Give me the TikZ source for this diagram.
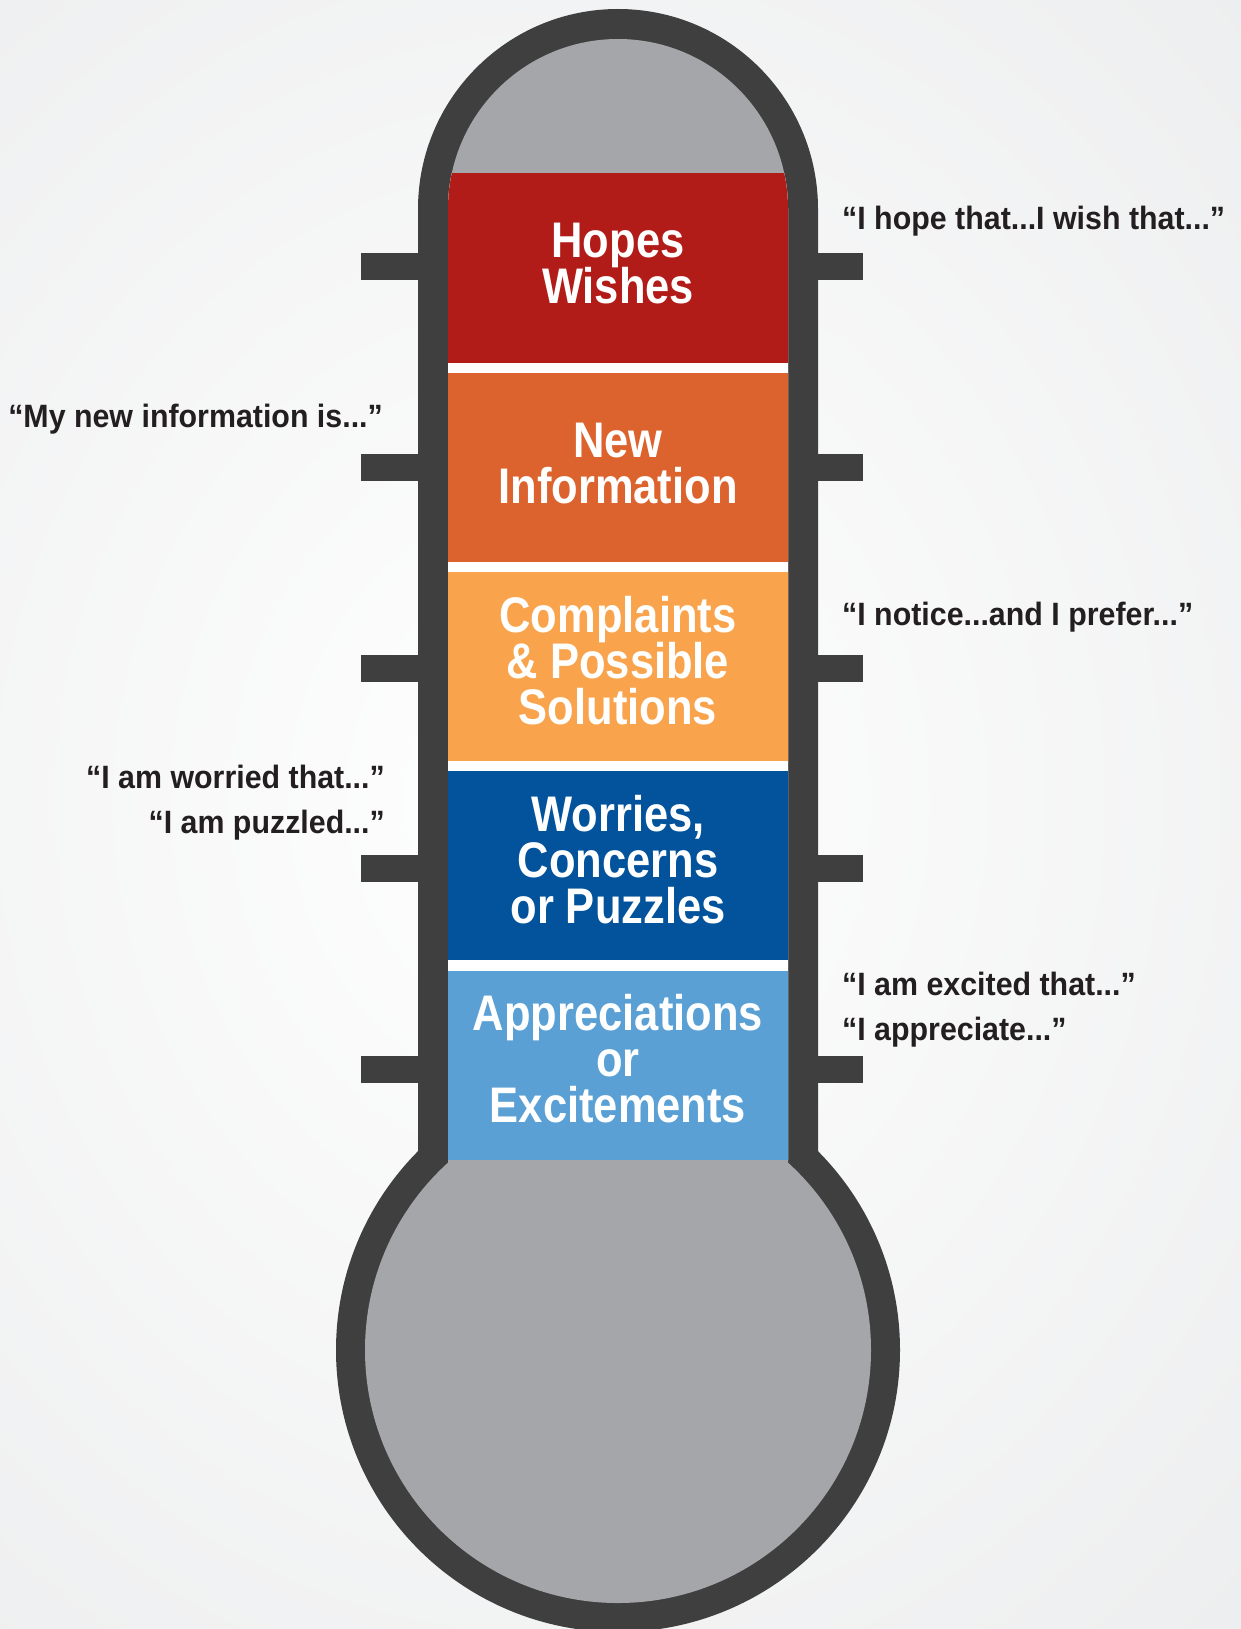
\documentclass[tikz,border=0pt]{standalone}
\usepackage{fontspec}
\newfontfamily\bandfont[FakeStretch=0.87]{Liberation Sans}
\newfontfamily\labfont[FakeStretch=0.94]{Liberation Sans}
\definecolor{wallc}{HTML}{3F3F3F}
\definecolor{bulbc}{HTML}{A5A6AA}
\definecolor{redc}{HTML}{B21C18}
\definecolor{orangec}{HTML}{DC632E}
\definecolor{yellowc}{HTML}{F9A44D}
\definecolor{bluec}{HTML}{02539C}
\definecolor{lightc}{HTML}{5AA0D5}
\definecolor{txtc}{HTML}{231F20}
\definecolor{bgc}{HTML}{ECEDEE}
\begin{document}
\begin{tikzpicture}[x=1pt,y=1pt,
  bandtxt/.style={inner sep=0pt,anchor=base,text=white,text height=36pt,text depth=8pt,font=\bandfont\bfseries\fontsize{50}{50}\selectfont},
  labl/.style={inner sep=0pt,anchor=base west,text=txtc,font=\labfont\bfseries\fontsize{32.3}{32.3}\selectfont},
  labr/.style={inner sep=0pt,anchor=base east,text=txtc,font=\labfont\bfseries\fontsize{32.3}{32.3}\selectfont},
  tick/.style={fill=wallc}]
\useasboundingbox (0,0) rectangle (1241,-1629);
\shade[inner color=white,outer color=bgc] (-500,400) rectangle (1600,-2000);
% outer body
\fill[wallc] (418,-1200) -- (418,-209) arc[start angle=180,end angle=0,radius=200] -- (818,-1200) -- cycle;
\fill[wallc] (618,-1350) circle[radius=282];
% ticks
\foreach \ty in {266.5,467,668,868.5,1069.5}{
  \fill[tick] (361,-\ty+13.5) rectangle (419,-\ty-13.5);
  \fill[tick] (817,-\ty+13.5) rectangle (863,-\ty-13.5);
}
% inner
\fill[bulbc] (448,-1200) -- (448,-209) arc[start angle=180,end angle=0,radius=170] -- (788,-1200) -- cycle;
\fill[bulbc] (618,-1350) circle[radius=253];
% bands
\begin{scope}
\clip (448,-1200) -- (448,-209) arc[start angle=180,end angle=0,radius=170] -- (788,-1200) -- cycle;
\fill[white] (440,-173) rectangle (800,-1160);
\fill[redc] (440,-173) rectangle (800,-363);
\fill[orangec] (440,-373) rectangle (800,-562);
\fill[yellowc] (440,-572) rectangle (800,-761);
\fill[bluec] (440,-771) rectangle (800,-960);
\fill[lightc] (440,-971) rectangle (800,-1160);
\end{scope}
% band texts
\node[bandtxt] (hw1) at (618,-258) {Hopes};
\node[bandtxt] (hw2) at (618,-303) {Wishes};
\node[bandtxt] (ni1) at (618,-457) {New};
\node[bandtxt] (ni2) at (618,-503) {Information};
\node[bandtxt] (cp1) at (618,-632) {Complaints};
\node[bandtxt] (cp2) at (618,-678) {\& Possible};
\node[bandtxt] (cp3) at (618,-724) {Solutions};
\node[bandtxt] (wc1) at (618,-831) {Worries,};
\node[bandtxt] (wc2) at (618,-877) {Concerns};
\node[bandtxt] (wc3) at (618,-923) {or Puzzles};
\node[bandtxt] (ae1) at (618,-1030) {Appreciations};
\node[bandtxt] (ae2) at (618,-1076) {or};
\node[bandtxt] (ae3) at (618,-1122) {Excitements};
% side labels
\node[labl] (l1) at (842,-230) {“I hope that...I wish that...”};
\node[labr] (l2) at (383,-427) {“My new information is...”};
\node[labl] (l3) at (842,-625) {“I notice...and I prefer...”};
\node[labr] (l4) at (385,-788) {“I am worried that...”};
\node[labr] (l5) at (385,-833) {“I am puzzled...”};
\node[labl] (l6) at (842,-995) {“I am excited that...”};
\node[labl] (l7) at (842,-1040) {“I appreciate...”};
\end{tikzpicture}
\end{document}
